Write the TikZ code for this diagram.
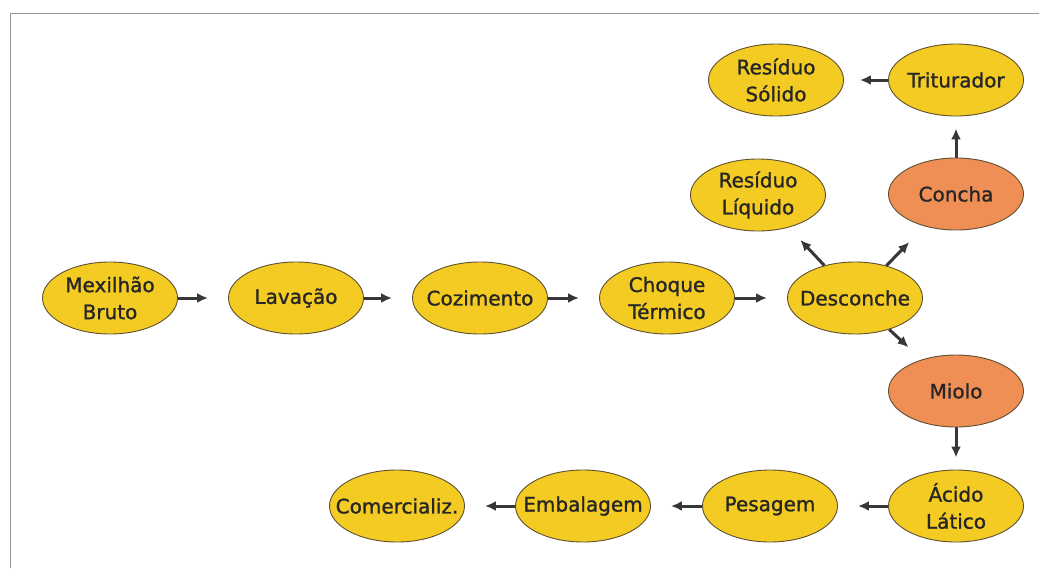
\documentclass[tikz,border=0pt]{standalone}
\usepackage{fontspec}
\setmainfont{DejaVu Sans}
\newfontfamily\etapafont{DejaVu Sans}[BoldFont={DejaVu Sans},BoldFeatures={FakeBold=1.2}]
\usetikzlibrary{shapes.geometric,arrows.meta}
\tikzset{>={Latex[length=11pt,width=10pt]}}
\definecolor{yfill}{RGB}{243,203,34}
\definecolor{ofill}{RGB}{239,143,86}
\definecolor{edgecol}{RGB}{95,80,50}
\definecolor{arrcol}{RGB}{55,55,55}
\definecolor{framecol}{RGB}{150,150,150}
\tikzstyle{etapa}=[ellipse,draw=edgecol,fill=yfill,line width=0.9pt,minimum width=135pt,
  minimum height=72pt,inner xsep=-30pt,inner ysep=-10pt,align=center,text=black!85,
  font=\etapafont\bfseries\fontsize{20}{27}\selectfont]
\tikzstyle{prod}=[etapa,fill=ofill]
\tikzstyle{seta}=[->,arrcol,line width=3pt,shorten >=20pt]

\begin{document}
\begin{tikzpicture}[x=1pt,y=-1pt]
  \useasboundingbox (0,0) rectangle (1039,568);
  
  % FRAME
  \draw[framecol,line width=1pt] (10,568) -- (10,13) -- (1039,13);
  
  % MAIN LINE
  \node[etapa] (mexilhao) at (110,298) {Mexilhão\\Bruto};
  \node[etapa] (lavacao) at (296,298) {Lavação};
  \node[etapa] (cozimento) at (480,298) {Cozimento};
  \node[etapa] (choque) at (667,298) {Choque\\Térmico};
  \node[etapa] (desconche) at (855,298) {Desconche};
  
  % BRANCHES
  \node[etapa] (resliq) at (758,195) {Resíduo\\Líquido};
  \node[prod] (concha) at (956,194) {Concha};
  \node[etapa] (triturador) at (956,80) {Triturador};
  \node[etapa] (ressol) at (776,80) {Resíduo\\Sólido};
  \node[prod] (miolo) at (956,391) {Miolo};
  
  % BOTTOM LINE
  \node[etapa] (acido) at (956,506) {Ácido\\Lático};
  \node[etapa] (pesagem) at (770,506) {Pesagem};
  \node[etapa] (embalagem) at (583,506) {Embalagem};
  \node[etapa] (comerc) at (397,506) {Comercializ.};
  
  % ARROWS
  \draw[seta] (mexilhao) -- (lavacao);
  \draw[seta] (lavacao) -- (cozimento);
  \draw[seta] (cozimento) -- (choque);
  \draw[seta] (choque) -- (desconche);
  \draw[seta,shorten >=17pt] (desconche) -- (resliq);
  \draw[seta,shorten >=22pt] (desconche) -- (concha);
  \draw[seta,shorten >=18pt] (desconche) -- (miolo);
  \draw[seta,shorten >=12pt] (concha) -- (triturador);
  \draw[seta,shorten >=16pt] (triturador) -- (ressol);
  \draw[seta,shorten >=12pt] (miolo) -- (acido);
  \draw[seta] (acido) -- (pesagem);
  \draw[seta] (pesagem) -- (embalagem);
  \draw[seta] (embalagem) -- (comerc);
  
\end{tikzpicture}
\end{document}
